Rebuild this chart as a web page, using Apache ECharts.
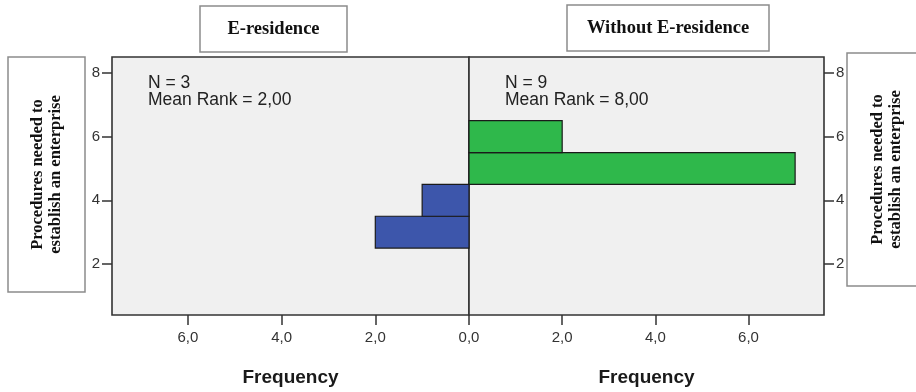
<!DOCTYPE html>
<html>
<head>
<meta charset="utf-8">
<script src="https://cdn.jsdelivr.net/npm/echarts@6/dist/echarts.min.js"></script>
<style>
html,body{margin:0;padding:0;background:#fff;}
#c{width:916px;height:392px;}
</style>
</head>
<body>
<div id="c"></div>
<script>
// ---- data ----
const groupNames = ['E-residence', 'Without E-residence'];
const eResBins = [3, 4];          // procedures (bin centres)
const eResCounts = [2, 1];        // frequency
const noEResBins = [5, 6];
const noEResCounts = [7, 2];
const yTickValues = [2, 4, 6, 8];
const xTickValues = [0, 2, 4, 6];
const statsERes = ['N = 3', 'Mean Rank = 2,00'];
const statsNoERes = ['N = 9', 'Mean Rank = 8,00'];
const yTitleLines = ['Procedures needed to', 'establish an enterprise'];
const xTitle = 'Frequency';

const chart = echarts.init(document.getElementById('c'));
const sans = 'Liberation Sans, Arial, sans-serif';
const serif = 'Liberation Serif, Times New Roman, serif';
const fmt = v => v.toFixed(1).replace('.', ',');

function binRender(color) {
  return function (params, api) {
    const y = api.value(0), c = api.value(1);
    const p0 = api.coord([0, y + 0.5]);
    const p1 = api.coord([c, y - 0.5]);
    return {
      type: 'rect',
      shape: {
        x: Math.min(p0[0], p1[0]), y: p0[1],
        width: Math.abs(p1[0] - p0[0]), height: p1[1] - p0[1]
      },
      style: { fill: color, stroke: '#1a1a1a', lineWidth: 1.2 }
    };
  };
}

const gridCommon = {
  top: 57, height: 258, show: true, backgroundColor: '#f0f0f0',
  borderColor: '#333', borderWidth: 1.6, containLabel: false, outerBoundsMode: 'none'
};
const xCommon = {
  type: 'value', min: 0, max: 7.62,
  axisLine: { show: false, onZero: false },
  axisTick: { show: true, length: 10, customValues: xTickValues, lineStyle: { color: '#333', width: 1.5 } },
  splitLine: { show: false },
  name: xTitle, nameLocation: 'middle', nameGap: 53,
  nameTextStyle: { fontFamily: sans, fontWeight: 'bold', fontSize: 19, color: '#1a1a1a' }
};
const yCommon = {
  type: 'value', min: 0.4, max: 8.5,
  axisLine: { show: false, onZero: false },
  axisTick: { show: true, length: 10, customValues: yTickValues, lineStyle: { color: '#333', width: 1.5 } },
  axisLabel: { customValues: yTickValues, margin: 12, fontFamily: sans, fontSize: 15, color: '#333' },
  splitLine: { show: false }
};

function statText(x, lines) {
  return {
    type: 'text', left: x, top: 74,
    style: { text: lines.join('\n'), font: '17.5px ' + sans, fill: '#222', lineHeight: 17.5 }
  };
}
function boxText(cx, cy, w, h, text, fontSize) {
  return [
    { type: 'rect', shape: { x: cx - w / 2, y: cy - h / 2, width: w, height: h },
      style: { fill: '#fff', stroke: '#8c8c8c', lineWidth: 1.5 } },
    { type: 'text', x: cx, y: cy,
      style: { text: text, font: 'bold ' + fontSize + 'px ' + serif, fill: '#111', align: 'center', verticalAlign: 'middle' } }
  ];
}
function vBox(x, y, w, h, lines) {
  return [
    { type: 'rect', shape: { x: x, y: y, width: w, height: h },
      style: { fill: '#fff', stroke: '#8c8c8c', lineWidth: 1.5 } },
    { type: 'text', x: x + w / 2, y: y + h / 2, rotation: Math.PI / 2,
      style: { text: lines.join('\n'), font: 'bold 16.5px ' + serif, fill: '#111', align: 'center', verticalAlign: 'middle', lineHeight: 18 } }
  ];
}

chart.setOption({
  animation: false,
  grid: [
    Object.assign({ left: 112, width: 357 }, gridCommon),
    Object.assign({ left: 469, width: 355 }, gridCommon)
  ],
  xAxis: [
    Object.assign({ gridIndex: 0, inverse: true,
      axisLabel: { customValues: xTickValues.filter(v => v !== 0), margin: 15, fontFamily: sans, fontSize: 15, color: '#333', formatter: v => fmt(v) } }, xCommon),
    Object.assign({ gridIndex: 1,
      axisLabel: { customValues: xTickValues, margin: 15, fontFamily: sans, fontSize: 15, color: '#333', formatter: v => fmt(v) } }, xCommon)
  ],
  yAxis: [
    Object.assign({ gridIndex: 0, position: 'left' }, yCommon),
    Object.assign({ gridIndex: 1, position: 'right' }, yCommon)
  ],
  series: [
    { type: 'custom', name: groupNames[0], xAxisIndex: 0, yAxisIndex: 0,
      renderItem: binRender('#3d56ab'),
      data: eResBins.map((b, i) => [b, eResCounts[i]]) },
    { type: 'custom', name: groupNames[1], xAxisIndex: 1, yAxisIndex: 1,
      renderItem: binRender('#2fb84b'),
      data: noEResBins.map((b, i) => [b, noEResCounts[i]]) }
  ],
  graphic: [
    statText(148, statsERes),
    statText(505, statsNoERes),
    ...boxText(273.5, 29, 147, 46, groupNames[0], 18.5),
    ...boxText(668, 28, 202, 46, groupNames[1], 18.5),
    ...vBox(8, 57, 77, 235, yTitleLines),
    ...vBox(847, 53, 80, 233, yTitleLines)
  ]
});
</script>
</body>
</html>
